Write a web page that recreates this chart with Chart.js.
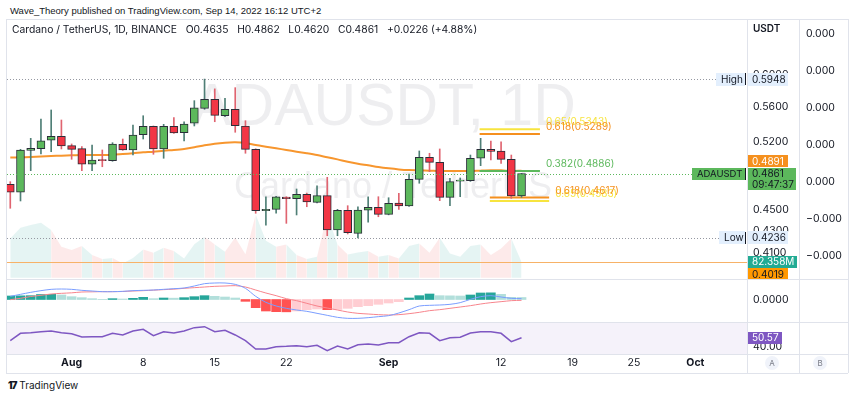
<!DOCTYPE html>
<html>
<head>
<meta charset="utf-8">
<script src="https://cdn.jsdelivr.net/npm/chart.js@4.4.0/dist/chart.umd.min.js"></script>
<style>
  body { margin: 0; width: 850px; height: 399px; background: #fff; position: relative; overflow: hidden;
         font-family: Inter, "Liberation Sans", sans-serif; color: #131722; }
  .abs { position: absolute; }
  canvas { position: absolute; left: 0; }
  .hl { position: absolute; left: 6px; width: 842px; height: 1px; background: #e0e3eb; }
  .vl { position: absolute; top: 19px; width: 1px; height: 354px; background: #e0e3eb; }
  .btn { position: absolute; top: 356px; width: 14px; height: 14px; border-radius: 7px; background: #f0f3fa;
         color: #787b86; font-size: 8px; line-height: 14px; text-align: center; }
</style>
</head>
<body>
<div class="abs" style="left:10px;top:5px;font-size:9.5px;font-family:'Liberation Sans',sans-serif;">Wave_Theory published on TradingView.com, Sep 14, 2022 16:12 UTC+2</div>

<canvas id="main" width="850" height="260" style="top:19px"></canvas>
<canvas id="macd" width="850" height="43" style="top:279px"></canvas>
<canvas id="rsi" width="850" height="51" style="top:322px"></canvas>

<div class="abs" style="left:12px;top:23px;font-size:10.3px;">Cardano / TetherUS, 1D, BINANCE&nbsp;&nbsp; O0.4635&nbsp;&nbsp; H0.4862&nbsp;&nbsp; L0.4620&nbsp;&nbsp; C0.4861&nbsp;&nbsp; +0.0226 (+4.88%)</div>
<div class="abs" style="left:753px;top:22px;font-size:10px;font-weight:600;background:#fff;">USDT</div>

<div class="hl" style="top:19px"></div>
<div class="hl" style="top:279px"></div>
<div class="hl" style="top:322px"></div>
<div class="hl" style="top:354px"></div>
<div class="hl" style="top:373px"></div>
<div class="vl" style="left:6px"></div>
<div class="vl" style="left:747px"></div>
<div class="vl" style="left:799px"></div>
<div class="vl" style="left:848px"></div>
<div class="btn" style="left:765px">A</div>
<div class="btn" style="left:813px">B</div>
<div class="abs" style="left:8px;top:379px;font-size:10px;"><b style="font-weight:900;letter-spacing:-1px">17</b> TradingView</div>

<script>
// daily candles, Jul 26 - Sep 14 2022
const dates = ['07-26','07-27','07-28','07-29','07-30','07-31',
  '08-01','08-02','08-03','08-04','08-05','08-06','08-07','08-08','08-09','08-10','08-11','08-12','08-13','08-14','08-15',
  '08-16','08-17','08-18','08-19','08-20','08-21','08-22','08-23','08-24','08-25','08-26','08-27','08-28','08-29','08-30','08-31',
  '09-01','09-02','09-03','09-04','09-05','09-06','09-07','09-08','09-09','09-10','09-11','09-12','09-13','09-14'];

const open  = [0.4750,0.4670,0.5108,0.5126,0.5219,0.5264,0.5159,0.5126,0.4958,0.5004,0.4996,0.5174,0.5112,0.5282,0.5377,0.5123,0.5377,
  0.5304,0.5412,0.5588,0.5697,0.5500,0.5576,0.5381,0.5119,0.4490,0.4503,0.4623,0.4606,0.4650,0.4571,0.4636,0.4308,0.4493,
  0.4278,0.4496,0.4523,0.4455,0.4564,0.4535,0.4801,0.5033,0.4979,0.4620,0.4783,0.4787,0.5022,0.5119,0.5101,0.5011,0.4635];
const high  = [0.4777,0.5119,0.5241,0.5462,0.5568,0.5450,0.5178,0.5148,0.5167,0.5112,0.5192,0.5233,0.5392,0.5500,0.5381,0.5400,0.5477,
  0.5430,0.5680,0.5948,0.5825,0.5709,0.5840,0.5442,0.5125,0.4626,0.4630,0.4626,0.4703,0.4662,0.4736,0.4822,0.4503,0.4538,
  0.4528,0.4626,0.4626,0.4616,0.4660,0.4856,0.5101,0.5076,0.5123,0.4812,0.4815,0.5057,0.5241,0.5211,0.5203,0.5057,0.4862];
const low   = [0.4513,0.4584,0.4891,0.5068,0.5093,0.5123,0.5011,0.4891,0.4891,0.4932,0.4990,0.5108,0.5057,0.5233,0.5065,0.5022,0.5295,
  0.5211,0.5381,0.5576,0.5430,0.5489,0.5309,0.5076,0.4465,0.4352,0.4465,0.4370,0.4449,0.4528,0.4565,0.4256,0.4256,0.4272,
  0.4236,0.4380,0.4432,0.4450,0.4503,0.4530,0.4761,0.4880,0.4587,0.4538,0.4626,0.4780,0.4943,0.5004,0.4968,0.4610,0.4620];
const close = [0.4670,0.5112,0.5130,0.5214,0.5264,0.5156,0.5119,0.4958,0.5004,0.4996,0.5178,0.5112,0.5278,0.5377,0.5123,0.5377,0.5301,
  0.5404,0.5595,0.5697,0.5505,0.5576,0.5385,0.5119,0.4490,0.4503,0.4626,0.4606,0.4650,0.4574,0.4636,0.4308,0.4493,0.4284,
  0.4496,0.4523,0.4455,0.4561,0.4535,0.4801,0.5033,0.4979,0.4620,0.4777,0.4794,0.5022,0.5119,0.5097,0.5011,0.4635,0.4861];
const ema   = [0.5030,0.5032,0.5036,0.5042,0.5047,0.5050,0.5054,0.5057,0.5057,0.5057,0.5060,0.5068,0.5076,0.5086,0.5093,0.5104,0.5112,
  0.5123,0.5141,0.5163,0.5181,0.5192,0.5196,0.5189,0.5167,0.5148,0.5130,0.5112,0.5093,0.5076,0.5057,0.5033,0.5010,0.4985,
  0.4964,0.4947,0.4929,0.4915,0.4904,0.4897,0.4894,0.4891,0.4887,0.4887,0.4887,0.4887,0.4891,0.4894,0.4894,0.4887,0.4891];
// volume in millions
const volume = [205,261,275,287,249,161,144,166,118,97,103,74,103,147,130,156,140,100,175,214,173,135,210,123,330,193,161,173,
  118,97,109,330,173,121,131,139,109,118,100,165,179,130,208,126,109,165,173,118,152,205,82.358];

const macdLine = [0.0019,0.0031,0.0043,0.0053,0.0061,0.0063,0.0061,0.0055,0.0051,0.0047,0.0047,0.0049,0.0053,0.0055,0.0057,0.0061,
  0.0065,0.0069,0.0081,0.0095,0.0099,0.0099,0.0091,0.0067,0.0019,-0.0017,-0.0039,-0.0053,-0.0063,-0.0071,-0.0083,-0.0095,-0.0107,
  -0.0113,-0.0113,-0.0109,-0.0103,-0.0097,-0.0081,-0.0061,-0.0039,-0.0035,-0.0033,-0.0029,-0.0019,0.0001,0.0017,0.0023,0.0015,0.0007,0.0005];
const signalLine = [-0.0001,0.0007,0.0018,0.0025,0.0033,0.0037,0.0040,0.0045,0.0046,0.0047,0.0047,0.0048,0.0051,0.0053,0.0056,0.0059,
  0.0062,0.0067,0.0071,0.0075,0.0079,0.0081,0.0083,0.0075,0.0057,0.0039,0.0023,0.0005,-0.0007,-0.0023,-0.0039,-0.0051,-0.0063,
  -0.0075,-0.0083,-0.0087,-0.0091,-0.0093,-0.0091,-0.0085,-0.0077,-0.0067,-0.0061,-0.0053,-0.0045,-0.0037,-0.0027,-0.0019,-0.0013,-0.0007,-0.0005];
const macdHist = [0.0021,0.0022,0.0023,0.0030,0.0031,0.0027,0.0017,0.0011,0.0005,0.0001,0.0005,0.0003,0.0007,0.0013,0.0005,0.0009,
  0.0008,0.0011,0.0017,0.0023,0.0019,0.0015,0.0009,-0.0011,-0.0049,-0.0069,-0.0073,-0.0074,-0.0069,-0.0061,-0.0057,-0.0061,-0.0060,
  -0.0053,-0.0043,-0.0037,-0.0029,-0.0021,-0.0013,0.0009,0.0023,0.0033,0.0023,0.0022,0.0021,0.0027,0.0039,0.0040,0.0031,0.0013,0.0012];
const rsi = [47.0,55.9,56.6,57.8,58.7,56.6,55.4,51.4,51.8,51.8,55.9,53.9,58.7,60.7,53.0,57.8,56.3,58.7,62.7,63.9,57.8,59.5,53.9,47.0,
  37.0,37.0,39.8,40.2,41.0,39.8,41.4,34.9,40.6,37.0,42.2,43.0,41.8,44.6,44.6,51.8,56.6,55.9,47.0,50.6,51.1,56.3,57.8,57.8,55.9,45.8,50.57];

// fibonacci drawings: level, ratio, from/to (day index)
const fibLevel = [0.5343, 0.5289, 0.4886, 0.4583, 0.4617];
const fibRatio = ['0.65', '0.618', '0.382', '0.65', '0.618'];
const fibFrom  = [45.9, 45.9, 45.9, 46.9, 46.9];
const fibTo    = [51.8, 51.8, 51.8, 52.7, 52.7];
const fibColor = ['#f7e43f', '#f5901e', '#5cb85c', '#f7e43f', '#f5901e'];
const levelLine = 0.4019;
const periodHigh = 0.5948, periodLow = 0.4236;

const priceTicks = [0.60, 0.56, 0.52, 0.48, 0.45, 0.43, 0.41];
const emptyTicks = [0.0004, 0.0003, 0.0002, 0.0001, 0, -0.0001, -0.0002];
const timeTickIdx = [6, 13, 20, 27, 37, 48, 55, 61, 67];
const timeTickText = ['Aug', '8', '15', '22', 'Sep', '12', '19', '25', 'Oct'];

const X_MIN = -0.32, X_MAX = 72.05;
const UP = '#5cb85c', DOWN = '#f23645';
const FONT = 'Inter, "Liberation Sans", sans-serif';
const BADGE_FONT = '10px ' + FONT;
Chart.defaults.font.family = FONT;
Chart.defaults.color = '#131722';

const isUp = i => close[i] >= open[i];
const fixW = w => axis => { axis.width = w; axis.paddingTop = 0; axis.paddingBottom = 0; };
const xAxis = { type: 'linear', min: X_MIN, max: X_MAX, offset: false, display: false };
const base = { responsive: false, animation: false, events: [],
  layout: { padding: { left: 7, right: 0, top: 0, bottom: 0 } },
  plugins: { legend: { display: false }, tooltip: { enabled: false } } };

function badge(ctx, x, y, w, h, bg, fg, txt) {
  ctx.fillStyle = bg;
  ctx.fillRect(x, Math.round(y - h / 2), w, h);
  ctx.fillStyle = fg;
  ctx.textAlign = 'left';
  ctx.textBaseline = 'middle';
  ctx.fillText(txt, x + 5, y + 0.5);
}

const mainOverlay = {
  id: 'mainOverlay',
  beforeDatasetsDraw(chart) {
    const { ctx, chartArea: a } = chart;
    ctx.save();
    ctx.beginPath(); ctx.rect(a.left, a.top, a.right - a.left, a.bottom - a.top); ctx.clip();
    ctx.fillStyle = 'rgba(149,152,161,0.16)';
    ctx.textAlign = 'center'; ctx.textBaseline = 'middle';
    ctx.font = '59px "Liberation Sans"';
    ctx.fillText('ADAUSDT, 1D', 384, 90);
    ctx.font = '36px "Liberation Sans"';
    ctx.fillText('Cardano / TetherUS', 393, 169);
    ctx.restore();
  },
  afterDatasetsDraw(chart) {
    const { ctx, chartArea: a, scales: { x, y } } = chart;
    ctx.save();
    ctx.lineWidth = 1;
    ctx.setLineDash([1, 2]);
    [[periodHigh, '#9598a1'], [periodLow, '#9598a1'], [close[close.length - 1], '#5cb85c']].forEach(([v, c]) => {
      const py = Math.round(y.getPixelForValue(v)) + 0.5;
      ctx.strokeStyle = c;
      ctx.beginPath(); ctx.moveTo(a.left, py); ctx.lineTo(a.right, py); ctx.stroke();
    });
    ctx.setLineDash([]);
    ctx.font = '10px ' + FONT;
    ctx.textBaseline = 'middle'; ctx.textAlign = 'left';
    [0, 3, 1, 4, 2].forEach(k => {
      ctx.fillStyle = fibColor[k];
      ctx.fillText(fibRatio[k] + '(' + fibLevel[k].toFixed(4) + ')', x.getPixelForValue(fibTo[k]) + 6, y.getPixelForValue(fibLevel[k]) - 7);
    });
    ctx.restore();
  },
  afterDraw(chart) {
    const { ctx, scales: { y, yv } } = chart;
    ctx.save();
    ctx.font = BADGE_FONT;
    const L = 747;
    let py = y.getPixelForValue(periodHigh);
    badge(ctx, 716, py, 29, 13, '#e3effd', '#131722', 'High');
    badge(ctx, L, py, 41, 13, '#e3effd', '#131722', periodHigh.toFixed(4));
    ctx.fillStyle = '#131722'; ctx.fillRect(745, Math.round(py - 6), 1, 12);
    py = y.getPixelForValue(periodLow);
    badge(ctx, 719, py, 26, 13, '#e3effd', '#131722', 'Low');
    badge(ctx, L, py, 41, 13, '#e3effd', '#131722', periodLow.toFixed(4));
    ctx.fillStyle = '#131722'; ctx.fillRect(745, Math.round(py - 6), 1, 12);
    // last price
    const last = close.length - 1;
    const pc = y.getPixelForValue(close[last]);
    ctx.font = '9.5px ' + FONT;
    badge(ctx, 692, pc, 53, 12, UP, '#131722', 'ADAUSDT');
    ctx.font = BADGE_FONT;
    ctx.fillStyle = '#131722'; ctx.fillRect(745, Math.round(pc - 6), 1, 12);
    ctx.fillStyle = UP; ctx.fillRect(L, Math.round(pc - 6), 49, 22);
    ctx.fillStyle = '#131722';
    ctx.fillText(close[last].toFixed(4), L + 5, pc + 0.5);
    ctx.fillText('09:47:37', L + 5, pc + 11);
    // EMA badge pushed above the price badge
    badge(ctx, L, Math.min(y.getPixelForValue(ema[last]), pc - 12.5), 41, 12, '#f5901e', '#ffffff', ema[last].toFixed(4));
    // volume + level
    const pv = yv.getPixelForValue(volume[last]);
    badge(ctx, L, pv, 50, 12, '#22ab94', '#ffffff', volume[last].toFixed(3) + 'M');
    badge(ctx, L, Math.max(y.getPixelForValue(levelLine), pv + 12.5), 41, 12, '#ff9800', '#131722', levelLine.toFixed(4));
    ctx.restore();
  }
};

new Chart(document.getElementById('main'), {
  data: {
    datasets: [
      { type: 'bar', order: 1, grouped: false, barThickness: 8, borderWidth: 1, borderColor: '#2a2e39', borderSkipped: false,
        minBarLength: 1,
        data: dates.map((d, i) => ({ x: i, y: [open[i], close[i]] })),
        backgroundColor: c => isUp(c.dataIndex) ? UP : DOWN },
      { type: 'bar', order: 2, grouped: false, barThickness: 1,
        data: dates.map((d, i) => ({ x: i, y: [low[i], high[i]] })),
        backgroundColor: c => isUp(c.dataIndex) ? '#4f7f76' : '#e06470' },
      ...fibLevel.map((v, k) => ({ type: 'line', order: 3, borderColor: fibColor[k], borderWidth: 2, pointRadius: 0,
        data: [{ x: fibFrom[k], y: v }, { x: fibTo[k], y: v }] })),
      { type: 'line', order: 4, data: dates.map((d, i) => ({ x: i, y: ema[i] })), borderColor: '#f7962e', borderWidth: 2,
        pointRadius: 0, tension: 0.3 },
      { type: 'line', order: 5, data: [{ x: X_MIN, y: levelLine }, { x: X_MAX, y: levelLine }], borderColor: '#f7b267',
        borderWidth: 1, pointRadius: 0 },
      { type: 'line', order: 6, yAxisID: 'yv', data: dates.map((d, i) => ({ x: i, y: volume[i] })), borderWidth: 0,
        pointRadius: 0, fill: 'origin', backgroundColor: 'rgba(38,166,154,0.12)',
        segment: { backgroundColor: c => isUp(c.p1DataIndex) ? 'rgba(38,166,154,0.12)' : 'rgba(239,83,80,0.12)' } }
    ]
  },
  options: { ...base,
    scales: {
      x: xAxis,
      y: { type: 'logarithmic', position: 'right', min: 0.3880, max: 0.6763, weight: 0,
        grid: { display: false, drawTicks: false }, border: { display: false },
        ticks: { padding: 6, autoSkip: false, font: { size: 10.5 }, callback: v => Number(v).toFixed(4) },
        afterBuildTicks: a => { a.ticks = priceTicks.map(v => ({ value: v })); }, afterFit: fixW(52) },
      y2: { type: 'linear', position: 'right', min: -0.0002622, max: 0.0004405, weight: 1,
        grid: { display: false, drawTicks: false }, border: { display: false },
        ticks: { padding: 7, autoSkip: false, font: { size: 10.5 }, callback: v => Number(v).toFixed(3).replace('-', '\u2212') },
        afterBuildTicks: a => { a.ticks = emptyTicks.map(v => ({ value: v })); }, afterFit: fixW(51) },
      yv: { display: false, min: -6.8, max: 1351 }
    }
  },
  plugins: [mainOverlay]
});

new Chart(document.getElementById('macd'), {
  data: {
    datasets: [
      { type: 'line', order: 0, data: dates.map((d, i) => ({ x: i, y: macdLine[i] })), borderColor: '#7a9dff', borderWidth: 1,
        pointRadius: 0, tension: 0.3 },
      { type: 'line', order: 0, data: dates.map((d, i) => ({ x: i, y: signalLine[i] })), borderColor: '#f7848c', borderWidth: 1,
        pointRadius: 0, tension: 0.3 },
      { type: 'bar', order: 1, barThickness: 9, data: dates.map((d, i) => ({ x: i, y: macdHist[i] })),
        backgroundColor: c => {
          const i = c.dataIndex, v = macdHist[i], p = i ? macdHist[i - 1] : 0;
          return v >= 0 ? (v >= p ? '#26a69a' : '#b2dfdb') : (v < p ? '#ff5252' : '#ffcdd2');
        } }
    ]
  },
  options: { ...base,
    layout: { padding: { left: 7, right: 51, top: 0, bottom: 0 } },
    scales: {
      x: xAxis,
      y: { position: 'right', min: -0.0135, max: 0.0123, grid: { display: false, drawTicks: false }, border: { display: false },
        ticks: { padding: 6, font: { size: 10.5 }, callback: v => Number(v).toFixed(4) },
        afterBuildTicks: a => { a.ticks = [{ value: 0 }]; }, afterFit: fixW(52) }
    }
  }
});

const rsiOverlay = {
  id: 'rsiOverlay',
  beforeDatasetsDraw(chart) {
    const { ctx, chartArea: a } = chart;
    ctx.save();
    ctx.fillStyle = 'rgba(126,87,194,0.08)';
    ctx.fillRect(a.left, a.top, a.right - a.left, a.bottom - a.top);
    ctx.restore();
  },
  afterDraw(chart) {
    const { ctx, scales: { y } } = chart;
    ctx.save();
    ctx.font = BADGE_FONT;
    const v = rsi[rsi.length - 1];
    badge(ctx, 747, y.getPixelForValue(v), 35, 12, '#7e57c2', '#ffffff', v.toFixed(2));
    ctx.restore();
  }
};

new Chart(document.getElementById('rsi'), {
  type: 'line',
  data: { datasets: [{ data: dates.map((d, i) => ({ x: i, y: rsi[i] })), borderColor: '#7e57c2', borderWidth: 1.5, pointRadius: 0 }] },
  options: { ...base,
    layout: { padding: { left: 7, right: 51, top: 0, bottom: 0 } },
    scales: {
      x: { type: 'linear', min: X_MIN, max: X_MAX, offset: false, grid: { display: false, drawTicks: false }, border: { display: false },
        ticks: { padding: 3, autoSkip: false, maxRotation: 0,
          font: c => ({ size: 10.5, weight: /[A-Z]/.test(timeTickText[timeTickIdx.indexOf(c.tick && c.tick.value)] || '') ? 'bold' : 'normal' }),
          callback: v => timeTickText[timeTickIdx.indexOf(v)] },
        afterBuildTicks: a => { a.ticks = timeTickIdx.map(v => ({ value: v })); },
        afterFit: a => { a.height = 19; a.paddingLeft = 0; a.paddingRight = 0; } },
      y: { position: 'right', min: 31.0, max: 69.5, grid: { display: false, drawTicks: false }, border: { display: false },
        ticks: { padding: 6, font: { size: 10.5 }, callback: v => Number(v).toFixed(2) },
        afterBuildTicks: a => { a.ticks = [{ value: 40 }]; }, afterFit: fixW(52) }
    }
  },
  plugins: [rsiOverlay]
});
</script>
</body>
</html>
